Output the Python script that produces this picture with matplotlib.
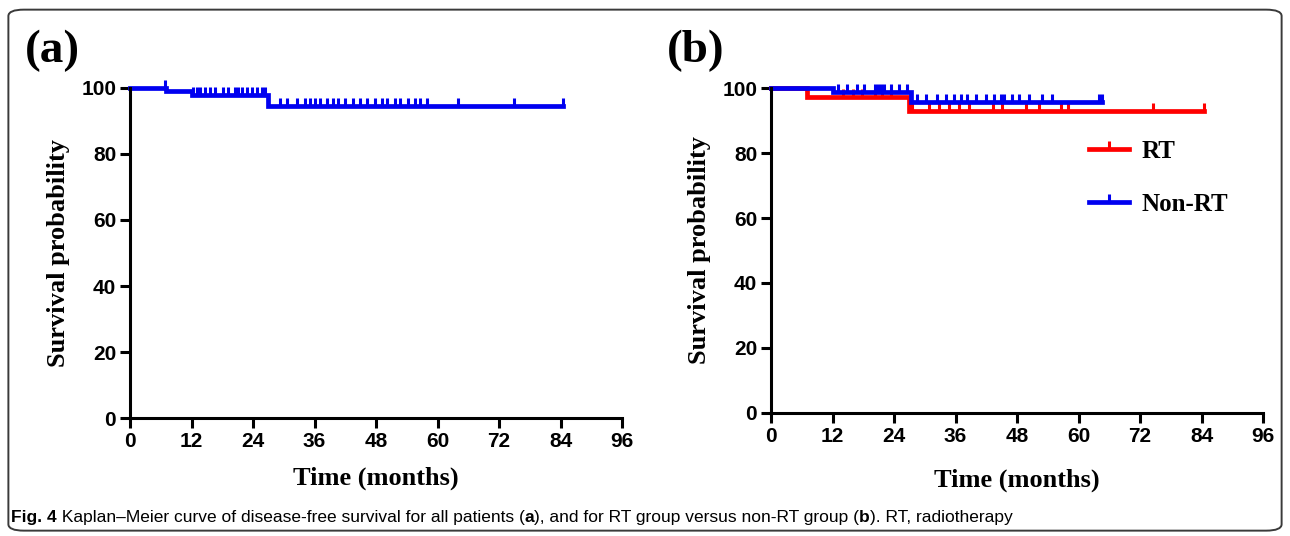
"""Kaplan-Meier curves of disease-free survival, (a) all patients, (b) RT vs non-RT."""
from __future__ import annotations

import matplotlib

matplotlib.use("Agg")
import matplotlib.pyplot as plt
import numpy as np
from matplotlib.lines import Line2D
from matplotlib.patches import FancyBboxPatch

# --- data (months, survival %) ----------------------------------------------
ALL_EVENT_T = [0, 7, 12, 27]
ALL_SURV = [100, 99.0, 97.8, 94.5]
ALL_END = 84.5
ALL_CENSOR = [6.8, 12.3, 13.1, 13.7, 14.6, 15.6, 16.6, 18.1, 19.1, 20.5, 21.1,
              21.9, 22.8, 23.8, 24.8, 25.8, 26.3, 29.3, 30.6, 32.6, 34.1, 35.1,
              36.1, 37.1, 38.4, 39.6, 40.6, 42.0, 43.5, 44.9, 46.2, 47.8, 49.2,
              50.1, 51.7, 52.7, 54.2, 55.6, 56.6, 58.0, 64.0, 75.0, 84.5]

RT_EVENT_T = [0, 7, 27]
RT_SURV = [100, 97.2, 92.8]
RT_END = 84.5
RT_CENSOR = [14.0, 16.0, 17.7, 20.2, 21.7, 23.5, 27.5, 30.9, 32.8, 34.8, 36.7,
             38.6, 43.4, 45.0, 49.7, 52.2, 56.5, 58.0, 74.6, 84.5]

NONRT_EVENT_T = [0, 12, 27.4]
NONRT_SURV = [100, 98.8, 95.6]
NONRT_END = 64.5
NONRT_CENSOR = [13.0, 14.8, 16.7, 18.2, 20.2, 20.8, 21.5, 22.1, 23.5, 25.0, 26.6,
                28.5, 30.3, 32.4, 34.2, 35.7, 37.1, 38.3, 40.0, 41.9, 43.5, 44.9,
                45.4, 47.0, 48.3, 50.3, 52.8, 54.8, 63.9, 64.5]

X_TICKS = [0, 12, 24, 36, 48, 60, 72, 84, 96]
Y_TICKS = [0, 20, 40, 60, 80, 100]

CAPTION = [
    ("Fig. 4", "bold"),
    (" Kaplan\u2013Meier curve of disease-free survival for all patients (", "normal"),
    ("a", "bold"),
    ("), and for RT group versus non-RT group (", "normal"),
    ("b", "bold"),
    ("). RT, radiotherapy", "normal"),
]

RED = "#ff0000"
BLUE = "#0000f0"
SERIF = "Liberation Serif"
SANS = "Liberation Sans"


def level_at(t, event_t, surv):
    """Survival level of a step curve at time t."""
    idx = np.searchsorted(event_t, t, side="right") - 1
    return np.asarray(surv)[idx]


def draw_km(ax, event_t, surv, end, censor, color):
    """Draw one step curve plus its censor ticks."""
    xs = list(event_t) + [end]
    ys = list(surv) + [surv[-1]]
    ax.step(xs, ys, where="post", color=color, lw=3.4, clip_on=False,
            solid_joinstyle="miter")
    cy = level_at(np.asarray(censor), event_t, surv)
    ax.plot(censor, cy, ls="none", marker=2, ms=6, mew=2.2, color=color,
            clip_on=False)


def style_axes(ax, xlabelpad):
    for side in ("top", "right"):
        ax.spines[side].set_visible(False)
    for side in ("left", "bottom"):
        ax.spines[side].set_linewidth(2.2)
    ax.set_xlim(0, 96)
    ax.set_ylim(0, 100)
    ax.set_xticks(X_TICKS)
    ax.set_yticks(Y_TICKS)
    ax.tick_params(direction="out", length=7, width=2.2, pad=3)
    for lab in ax.get_xticklabels() + ax.get_yticklabels():
        lab.set_fontfamily(SANS)
        lab.set_fontweight("bold")
        lab.set_fontsize(15)
    ax.set_xlabel("Time (months)", family=SERIF, weight="bold", size=19,
                  labelpad=xlabelpad)
    ax.set_ylabel("Survival probability", family=SERIF, weight="bold",
                  size=19, labelpad=8)


def add_caption(fig, x, y, size=12.5):
    """Write the caption as consecutive text pieces (mixed bold / normal)."""
    texts = [fig.text(x, y, txt, family=SANS, weight=w, size=size)
             for txt, w in CAPTION]
    fig.canvas.draw()
    renderer = fig.canvas.get_renderer()
    to_fig = fig.transFigure.inverted()
    for before, after in zip(texts[:-1], texts[1:]):
        bb = before.get_window_extent(renderer).transformed(to_fig)
        after.set_position((bb.x1, y))


def make_figure():
    fig = plt.figure(figsize=(12.9, 5.36), dpi=100)

    ax_a = fig.add_axes([0.1008, 0.220, 0.3814, 0.616])
    ax_b = fig.add_axes([0.5977, 0.2295, 0.3814, 0.6063])

    draw_km(ax_a, ALL_EVENT_T, ALL_SURV, ALL_END, ALL_CENSOR, BLUE)
    draw_km(ax_b, RT_EVENT_T, RT_SURV, RT_END, RT_CENSOR, RED)
    draw_km(ax_b, NONRT_EVENT_T, NONRT_SURV, NONRT_END, NONRT_CENSOR, BLUE)

    style_axes(ax_a, 11)
    style_axes(ax_b, 16)

    handles = [
        Line2D([], [], color=RED, lw=3.4, marker=2, ms=6, mew=2.2),
        Line2D([], [], color=BLUE, lw=3.4, marker=2, ms=6, mew=2.2),
    ]
    ax_b.legend(handles, ["RT", "Non-RT"], loc="upper left",
                bbox_to_anchor=(0.6, 0.91), frameon=False, numpoints=1,
                handlelength=1.6, handletextpad=0.5, labelspacing=1.2,
                prop={"family": SERIF, "weight": "bold", "size": 18})

    fig.text(0.019, 0.885, "(a)", family=SERIF, weight="bold", size=34)
    fig.text(0.517, 0.885, "(b)", family=SERIF, weight="bold", size=34)

    add_caption(fig, 0.0085, 0.027)

    border = FancyBboxPatch((0.0065, 0.01), 0.987, 0.972,
                            boxstyle="round,pad=0,rounding_size=0.012",
                            transform=fig.transFigure, fill=False,
                            edgecolor="#3a3a3a", lw=1.4)
    fig.patches.append(border)

    fig.savefig("out.png", dpi=100)


if __name__ == "__main__":
    make_figure()
